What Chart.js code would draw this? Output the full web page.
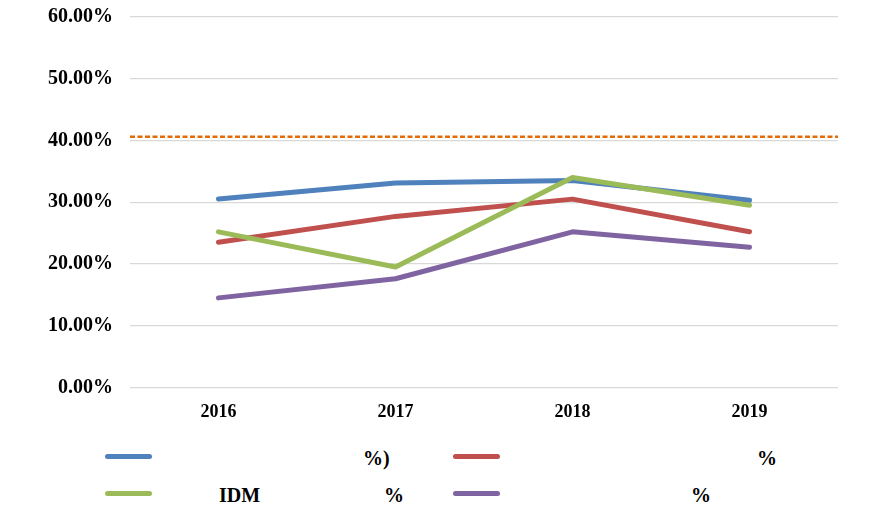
<!DOCTYPE html>
<html>
<head>
<meta charset="utf-8">
<script src="https://cdn.jsdelivr.net/npm/chart.js@4.4.0/dist/chart.umd.min.js"></script>
<style>
  html, body { margin: 0; padding: 0; background: #ffffff; }
  #wrap { position: relative; width: 884px; height: 524px; overflow: hidden; }
  #chartBox { position: absolute; left: 0; top: -12px; width: 884px; height: 449px; }
  .item { position: absolute; height: 24px; display: flex; align-items: center; }
  .sw { width: 47px; height: 5px; border-radius: 3px; margin-right: 7px; flex: none; }
  .lbl { font-family: "Liberation Serif", "Noto Sans CJK SC", serif; font-weight: bold; font-size: 20px; color: #000; white-space: pre; }
</style>
</head>
<body>
<div id="wrap">
  <div id="chartBox"><canvas id="c"></canvas></div>
  <div id="legend"></div>
</div>
<script>
// ---- data ----
const years = ['2016', '2017', '2018', '2019'];
const seriesBlue   = [30.5, 33.1, 33.5, 30.3];
const seriesRed    = [23.5, 27.7, 30.5, 25.2];
const seriesGreen  = [25.2, 19.5, 34.0, 29.5];
const seriesPurple = [14.5, 17.6, 25.2, 22.7];
const thresholdValue = 40.6;
const yTickValues = [0, 10, 20, 30, 40, 50, 60];
// legend labels (blank glyphs of the original kept as ideographic spaces)
const seriesNames = [
  '\u3000\u3000\u3000\u3000\u3000\u3000\u3000\u3000\u3000\u3000\u2009%)',
  '\u3000\u3000\u3000\u3000\u3000\u3000\u3000\u3000\u3000\u3000\u3000\u3000\u2002%',
  '\u3000\u3000\u3000IDM\u3000\u3000\u3000\u3000\u3000\u3000\u2009%',
  '\u3000\u3000\u3000\u3000\u3000\u3000\u3000\u3000\u3000\u2009%'
];
const seriesColors = ['#4F81BD', '#C0504D', '#9BBB59', '#8064A2'];
const thresholdColor = '#E36C09';

const allSeries = [seriesBlue, seriesRed, seriesGreen, seriesPurple];

const datasets = allSeries.map((vals, i) => ({
  label: seriesNames[i],
  data: vals,
  borderColor: seriesColors[i],
  backgroundColor: seriesColors[i],
  borderWidth: 5,
  pointRadius: 0,
  tension: 0,
  borderCapStyle: 'round',
  borderJoinStyle: 'round',
  fill: false,
  xAxisID: 'x',
  order: 4 - i
}));
datasets.push({
  label: 'threshold',
  data: [{x: 0, y: thresholdValue}, {x: 1, y: thresholdValue}],
  borderColor: thresholdColor,
  borderWidth: 2.5,
  borderDash: [5, 2.5],
  pointRadius: 0,
  fill: false,
  xAxisID: 'x2',
  order: 0
});

const xFont = { family: '"Liberation Serif", serif', size: 18, weight: 'bold' };
const yFont = { family: '"Liberation Serif", serif', size: 20, weight: 'bold' };

new Chart(document.getElementById('c'), {
  type: 'line',
  data: { labels: years, datasets: datasets },
  options: {
    responsive: true,
    maintainAspectRatio: false,
    animation: false,
    layout: { padding: { top: 4, right: 46, bottom: 0, left: 0 } },
    plugins: { legend: { display: false }, tooltip: { enabled: false } },
    scales: {
      x: {
        type: 'category',
        offset: true,
        grid: { display: false, drawTicks: false },
        border: { display: false },
        ticks: { color: '#000', font: xFont, padding: 14 }
      },
      x2: {
        type: 'linear',
        display: false,
        min: 0,
        max: 1
      },
      y: {
        min: 0,
        max: 60,
        afterBuildTicks: (s) => { s.ticks = yTickValues.map(v => ({ value: v })); },
        afterFit: (s) => { s.width = 130; },
        grid: { color: '#D9D9D9', lineWidth: 1.3, drawTicks: false },
        border: { display: false },
        ticks: {
          color: '#000', font: yFont, padding: 17,
          callback: (v) => Number(v).toFixed(2) + '%'
        }
      }
    }
  }
});

// ---- legend ----
const legendPos = [
  { left: 105, top: 444 }, { left: 453, top: 444 },
  { left: 105, top: 481 }, { left: 453, top: 481 }
];
const legendEl = document.getElementById('legend');
seriesNames.forEach((name, i) => {
  const it = document.createElement('div');
  it.className = 'item';
  it.style.left = legendPos[i].left + 'px';
  it.style.top = legendPos[i].top + 'px';
  const sw = document.createElement('div');
  sw.className = 'sw';
  sw.style.background = seriesColors[i];
  const lb = document.createElement('span');
  lb.className = 'lbl';
  lb.textContent = name;
  it.appendChild(sw);
  it.appendChild(lb);
  legendEl.appendChild(it);
});
</script>
</body>
</html>
